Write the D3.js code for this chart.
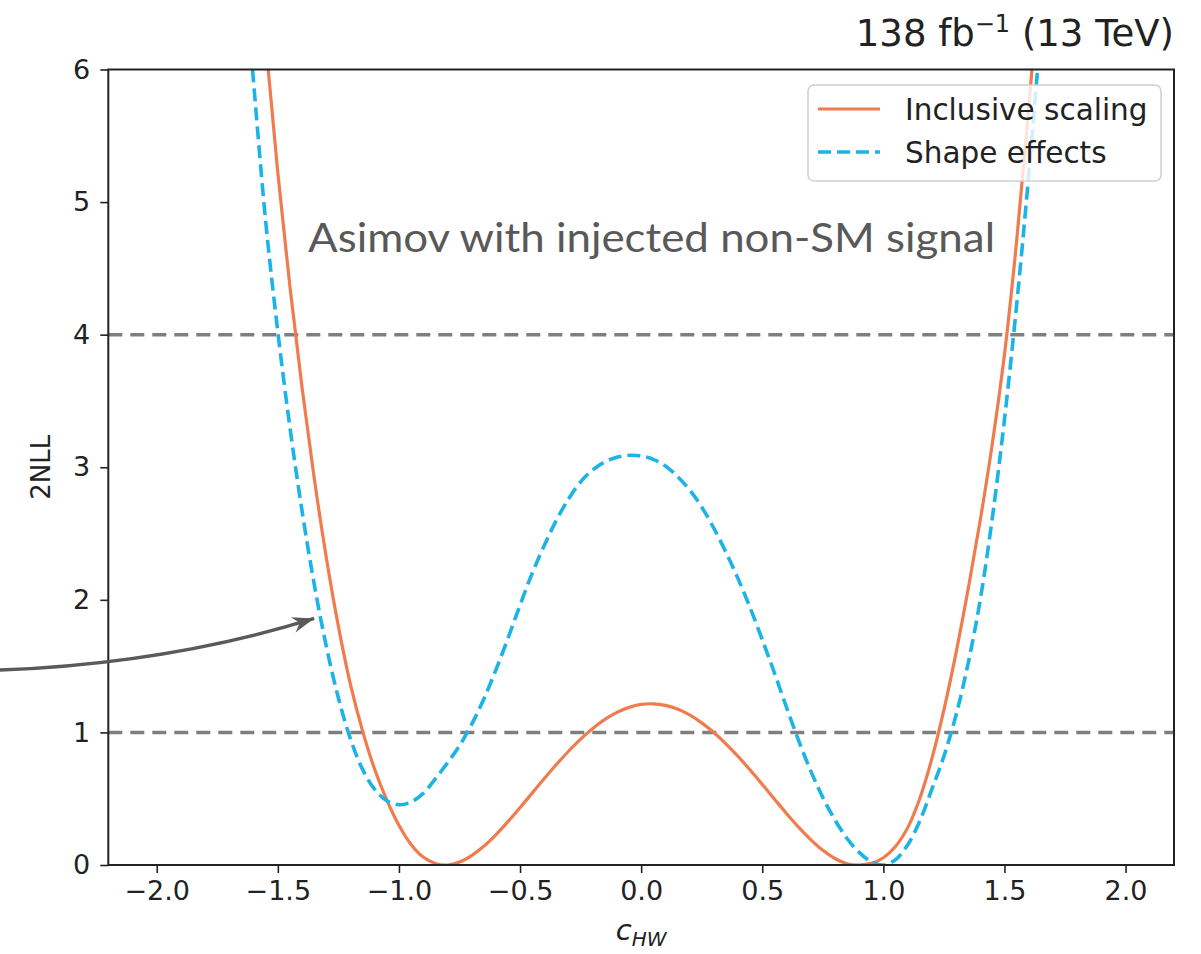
<!DOCTYPE html>
<html>
<head>
<meta charset="utf-8">
<script src="https://cdn.jsdelivr.net/npm/d3@7"></script>
<style>
  html, body { margin: 0; padding: 0; background: #fff; }
  svg { display: block; }
  text { font-family: "DejaVu Sans", sans-serif; }
</style>
</head>
<body>
<svg id="chart" width="1201" height="954"></svg>
<script>
// Likelihood scan of c_HW: sampled points of each curve
const cHW = [
  -1.65, -1.6, -1.55, -1.5, -1.45, -1.4, -1.35, -1.3, -1.25, -1.2, -1.15, -1.1,
  -1.05, -1.0, -0.95, -0.9, -0.85, -0.8, -0.75, -0.7, -0.65, -0.6, -0.55, -0.5,
  -0.45, -0.4, -0.35, -0.3, -0.25, -0.2, -0.15, -0.1, -0.05, 0.0, 0.05, 0.1,
  0.15, 0.2, 0.25, 0.3, 0.35, 0.4, 0.45, 0.5, 0.55, 0.6, 0.65, 0.7,
  0.75, 0.8, 0.85, 0.9, 0.95, 1.0, 1.05, 1.1, 1.15, 1.2, 1.25, 1.3,
  1.35, 1.4, 1.45, 1.5, 1.55, 1.6, 1.65
];
const inclusive = [
  8.5, 7.3, 6.2, 5.22, 4.36, 3.6, 2.92, 2.32, 1.8, 1.36, 1.01, 0.72,
  0.49, 0.3, 0.155, 0.06, 0.012, 0.0, 0.022, 0.071, 0.141, 0.228, 0.327, 0.433,
  0.542, 0.652, 0.758, 0.858, 0.95, 1.03, 1.098, 1.151, 1.189, 1.211, 1.216, 1.204,
  1.176, 1.132, 1.072, 0.999, 0.914, 0.819, 0.716, 0.608, 0.498, 0.389, 0.286, 0.192,
  0.111, 0.049, 0.01, 0.0, 0.012, 0.055, 0.14, 0.28, 0.5, 0.8, 1.17, 1.6,
  2.08, 2.6, 3.18, 3.85, 4.7, 5.7, 6.85
];
const shape = [
  7.0, 5.9, 4.85, 4.02, 3.3, 2.67, 2.12, 1.65, 1.26, 0.95, 0.72, 0.57,
  0.485, 0.455, 0.475, 0.54, 0.65, 0.77, 0.9, 1.06, 1.25, 1.47, 1.71, 1.96,
  2.2, 2.41, 2.6, 2.76, 2.89, 2.98, 3.04, 3.075, 3.09, 3.085, 3.06, 3.01,
  2.93, 2.83, 2.7, 2.54, 2.36, 2.16, 1.94, 1.7, 1.45, 1.19, 0.94, 0.71,
  0.51, 0.34, 0.2, 0.095, 0.025, 0.0, 0.04, 0.15, 0.33, 0.57, 0.82, 1.13,
  1.52, 2.0, 2.62, 3.36, 4.22, 5.2, 6.3
];
const thresholds = [1, 4];
const xTicks = [-2.0, -1.5, -1.0, -0.5, 0.0, 0.5, 1.0, 1.5, 2.0];
const yTicks = [0, 1, 2, 3, 4, 5, 6];
const seriesNames = ["Inclusive scaling", "Shape effects"];
const xDomain = [-2.2, 2.2];
const yDomain = [0, 6];
// annotation arrow, in data units: start, control, tip
const arrowPts = [[-2.65, 1.47], [-1.95, 1.52], [-1.35, 1.86]];

const svg = d3.select("#chart");
const m = { left: 108.3, right: 1174, top: 69.5, bottom: 865 };

const x = d3.scaleLinear().domain(xDomain).range([m.left, m.right]);
const y = d3.scaleLinear().domain(yDomain).range([m.bottom, m.top]);

const colInc = "#ef7b4f";
const colShape = "#1cb3e6";

svg.append("defs").append("clipPath").attr("id", "plotclip")
  .append("rect")
  .attr("x", m.left).attr("y", m.top)
  .attr("width", m.right - m.left).attr("height", m.bottom - m.top);

const plot = svg.append("g").attr("clip-path", "url(#plotclip)");

// reference levels
plot.selectAll("line.thr").data(thresholds).join("line")
  .attr("class", "thr")
  .attr("x1", m.left).attr("x2", m.right)
  .attr("y1", d => y(d)).attr("y2", d => y(d))
  .attr("stroke", "#7f7f7f").attr("stroke-width", 3.5)
  .attr("stroke-dasharray", "14,8");

const line = d3.line()
  .x(d => x(d[0])).y(d => y(d[1]))
  .curve(d3.curveCatmullRom.alpha(0.5));

plot.append("path")
  .datum(cHW.map((c, i) => [c, inclusive[i]]))
  .attr("d", line)
  .attr("fill", "none").attr("stroke", colInc).attr("stroke-width", 3.2);

plot.append("path")
  .datum(cHW.map((c, i) => [c, shape[i]]))
  .attr("d", line)
  .attr("fill", "none").attr("stroke", colShape).attr("stroke-width", 3.6)
  .attr("stroke-dasharray", "13,6");

// axes
const xAxis = d3.axisBottom(x).tickValues(xTicks).tickSize(8).tickPadding(8)
  .tickFormat(d => d3.format(".1f")(d).replace("-", "\u2212"));
const yAxis = d3.axisLeft(y).tickValues(yTicks).tickSize(8).tickPadding(10)
  .tickFormat(d3.format("d"));

const gx = svg.append("g").attr("transform", `translate(0,${m.bottom})`).call(xAxis);
const gy = svg.append("g").attr("transform", `translate(${m.left},0)`).call(yAxis);
[gx, gy].forEach(g => {
  g.select(".domain").remove();
  g.selectAll(".tick line").attr("stroke", "#222").attr("stroke-width", 1.6);
  g.selectAll(".tick text").attr("fill", "#222").style("font-size", "27px")
    .style("font-family", "DejaVu Sans, sans-serif");
});

// frame
svg.append("rect")
  .attr("x", m.left).attr("y", m.top)
  .attr("width", m.right - m.left).attr("height", m.bottom - m.top)
  .attr("fill", "none").attr("stroke", "#222").attr("stroke-width", 2);

// axis titles
svg.append("text")
  .attr("transform", `translate(50,${(m.top + m.bottom) / 2}) rotate(-90)`)
  .attr("text-anchor", "middle")
  .style("font-size", "26px").attr("fill", "#222")
  .text("2NLL");

const xl = svg.append("text")
  .attr("x", x(0)).attr("y", 940)
  .attr("text-anchor", "middle").attr("fill", "#222")
  .style("font-size", "29px").style("font-style", "italic");
xl.append("tspan").text("c");
xl.append("tspan").attr("dy", 6).style("font-size", "20px").text("HW");

// luminosity / energy label
const lum = svg.append("text")
  .attr("x", m.right).attr("y", 46)
  .attr("text-anchor", "end").attr("fill", "#222")
  .style("font-size", "37px");
lum.append("tspan").text("138 fb");
lum.append("tspan").attr("dy", -14).style("font-size", "24px").text("\u22121");
lum.append("tspan").attr("dy", 14).text(" (13 TeV)");

// legend
const lg = svg.append("g");
lg.append("rect")
  .attr("x", 808).attr("y", 85).attr("width", 353).attr("height", 96)
  .attr("rx", 6).attr("fill", "rgba(255,255,255,0.8)")
  .attr("stroke", "#d0d0d0").attr("stroke-width", 1.5);
const legItems = seriesNames.map((n, i) => ({ name: n, color: i ? colShape : colInc, dash: i ? "13,6" : null }));
legItems.forEach((d, i) => {
  const yy = 109 + i * 43;
  lg.append("line").attr("x1", 818).attr("x2", 880).attr("y1", yy).attr("y2", yy)
    .attr("stroke", d.color).attr("stroke-width", d.dash ? 3.6 : 3.2)
    .attr("stroke-dasharray", d.dash);
  lg.append("text").attr("x", 905).attr("y", yy + 11)
    .style("font-size", "29.5px").attr("fill", "#222").text(d.name);
});

// annotation
svg.append("text")
  .attr("x", 308).attr("y", 252)
  .style("font-family", "Lato, sans-serif").style("font-size", "40px")
  .attr("textLength", 687).attr("lengthAdjust", "spacingAndGlyphs")
  .attr("fill", "#595959")
  .text("Asimov with injected non-SM signal");

svg.select("defs").append("marker")
  .attr("id", "head").attr("viewBox", "-24 -10 26 20")
  .attr("refX", 0).attr("refY", 0)
  .attr("markerWidth", 26).attr("markerHeight", 20)
  .attr("markerUnits", "userSpaceOnUse").attr("orient", "auto")
  .append("path").attr("d", "M0,0 L-22,-8 L-15,0 L-22,8 Z").attr("fill", "#5a5a5a");

const ap = arrowPts.map(p => [x(p[0]), y(p[1])]);
svg.append("path")
  .attr("d", `M${ap[0][0]},${ap[0][1]} Q${ap[1][0]},${ap[1][1]} ${ap[2][0]},${ap[2][1]}`)
  .attr("fill", "none").attr("stroke", "#5a5a5a").attr("stroke-width", 3.4)
  .attr("marker-end", "url(#head)");
</script>
</body>
</html>
